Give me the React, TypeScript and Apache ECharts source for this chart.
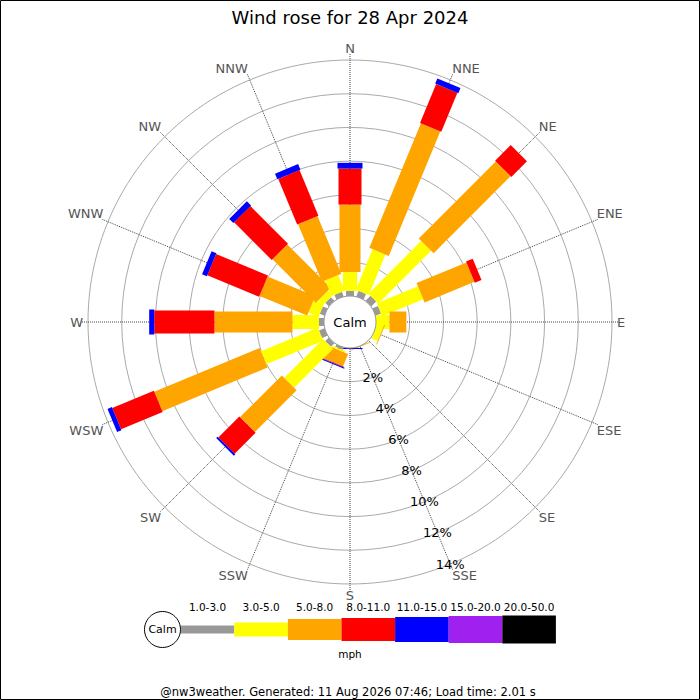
import React, { useEffect, useRef } from "react";
import * as echarts from "echarts";

// ---- data (percent of time, per direction and speed band) ----
const directions = ["N", "NNE", "NE", "ENE", "E", "ESE", "SE", "SSE", "S", "SSW", "SW", "WSW", "W", "WNW", "NW", "NNW"];
const bandLabels = ["1.0-3.0", "3.0-5.0", "5.0-8.0", "8.0-11.0", "11.0-15.0", "15.0-20.0", "20.0-50.0"];
const band1to3 = [0.3, 0.36, 0.42, 0.35, 0, 0, 0, 0, 0, 0.15, 0.3, 0.35, 0.3, 0.3, 0.3, 0.3];
const band3to5 = [1.13, 2.6, 4.43, 2.64, 0.8, 0.4, 0, 0, 0, 0.1, 3.26, 3.66, 1.57, 0.65, 0.4, 1.0];
const band5to8 = [3.99, 8.0, 6.46, 3.2, 1.0, 0.05, 0, 0.04, 0, 0.8, 3.5, 6.76, 4.63, 3.06, 3.64, 3.7];
const band8to11 = [2.14, 2.5, 1.31, 0.43, 0, 0, 0, 0, 0, 0.04, 1.76, 2.67, 3.57, 3.33, 3.16, 2.93];
const band11to15 = [0.34, 0.33, 0, 0, 0, 0, 0, 0, 0.06, 0.06, 0.12, 0.28, 0.3, 0.31, 0.35, 0.36];
const band15to20 = [0, 0, 0, 0, 0, 0, 0, 0, 0, 0, 0, 0, 0, 0, 0, 0];
const band20to50 = [0, 0, 0, 0, 0, 0, 0, 0, 0, 0, 0, 0, 0, 0, 0, 0];
const radiusMax = 14;
const radiusStep = 2;

// ---- styles ----
const bandColors = ["#999999", "#ffff00", "#ffa500", "#ff0000", "#0000ff", "#a020f0", "#000000"];
const bandWidths = [8, 14, 21, 23, 25, 27, 28];
const FONT = "DejaVu Sans";

export default function App() {
  const ref = useRef<HTMLDivElement>(null);

  useEffect(() => {
    if (!ref.current) return;
    const chart = echarts.init(ref.current, null, { renderer: "svg" });

    const bands = [band1to3, band3to5, band5to8, band8to11, band11to15, band15to20, band20to50];
    const step = 360 / directions.length;
    const segments: number[][] = [];
    directions.forEach((_, i) => {
      let cum = 0;
      bands.forEach((arr, b) => {
        const v = arr[i];
        if (v > 0) {
          segments.push([cum + v, i * step, cum, b]);
          cum += v;
        }
      });
    });

    const cx = 350;
    const cy = 322;
    const innerR = 26;
    const outerR = 262;

    const legendX0 = 180.7;
    const legendStep = 53.6;
    const legendY = 629.5;

    const legendGraphics: any[] = [];
    bandLabels.forEach((lab, b) => {
      const h = bandWidths[b];
      legendGraphics.push({
        type: "rect",
        shape: { x: legendX0 + b * legendStep, y: legendY - h / 2, width: legendStep, height: h },
        style: { fill: bandColors[b] },
      });
      legendGraphics.push({
        type: "text",
        x: legendX0 + b * legendStep + legendStep / 2,
        y: 607,
        style: { text: lab, fontSize: 10.5, fontFamily: FONT, fill: "#000", align: "center", verticalAlign: "middle" },
      });
    });

    chart.setOption({
      animation: false,
      textStyle: { fontFamily: FONT },
      polar: [
        { center: [cx, cy], radius: [innerR, outerR] },
        { center: [cx, cy], radius: [innerR, outerR] },
      ],
      angleAxis: [
        {
          polarIndex: 0,
          type: "value",
          min: 0,
          max: 360,
          interval: step,
          startAngle: 90,
          clockwise: true,
          axisLine: { show: false },
          axisTick: { show: true, length: 6, lineStyle: { color: "#444", type: "dotted", width: 1 } },
          splitLine: { show: true, lineStyle: { color: "#444", type: "dotted", width: 1 } },
          axisLabel: {
            margin: 5,
            color: "#555",
            fontSize: 13,
            fontFamily: FONT,
            formatter: (v: number) => directions[Math.round(v / step) % directions.length],
          },
        },
        {
          polarIndex: 1,
          type: "value",
          min: 0,
          max: 360,
          startAngle: 90 - 157.5,
          show: false,
        },
      ],
      radiusAxis: [
        {
          polarIndex: 0,
          type: "value",
          min: 0,
          max: radiusMax,
          interval: radiusStep,
          axisLine: { show: false },
          axisTick: { show: false },
          axisLabel: { show: false },
          splitLine: { show: true, lineStyle: { color: "#aaaaaa", width: 1 } },
        },
        {
          polarIndex: 1,
          type: "value",
          min: 0,
          max: radiusMax,
          interval: radiusStep,
          axisLine: { show: false },
          axisTick: { show: false },
          splitLine: { show: false },
          axisLabel: {
            show: true,
            margin: 0,
            color: "#000",
            fontSize: 13,
            fontFamily: FONT,
            align: "center",
            verticalAlign: "middle",
            formatter: (v: number) => (v === 0 ? "" : v + "%"),
          },
        },
      ],
      series: [
        {
          type: "custom",
          coordinateSystem: "polar",
          polarIndex: 0,
          data: segments,
          z: 3,
          renderItem: (params: any, api: any) => {
            const end = api.value(0);
            const ang = api.value(1);
            const start = api.value(2);
            const b = api.value(3);
            const pa = api.coord([start, ang]);
            const pb = api.coord([end, ang]);
            const c0 = api.coord([0, ang]);
            const c1 = api.coord([radiusMax, ang]);
            let dx = c1[0] - c0[0];
            let dy = c1[1] - c0[1];
            const len = Math.sqrt(dx * dx + dy * dy) || 1;
            dx /= len;
            dy /= len;
            const px = -dy * (bandWidths[b] / 2);
            const py = dx * (bandWidths[b] / 2);
            return {
              type: "polygon",
              shape: {
                points: [
                  [pa[0] + px, pa[1] + py],
                  [pb[0] + px, pb[1] + py],
                  [pb[0] - px, pb[1] - py],
                  [pa[0] - px, pa[1] - py],
                ],
              },
              style: { fill: bandColors[b] },
            };
          },
        },
      ],
      graphic: [
        {
          type: "rect",
          shape: { x: 0.5, y: 0.5, width: 699, height: 699 },
          style: { fill: "none", stroke: "#000", lineWidth: 1 },
        },
        {
          type: "text",
          x: 350,
          y: 17,
          style: { text: "Wind rose for 28 Apr 2024", fontSize: 18, fontFamily: FONT, fill: "#000", align: "center", verticalAlign: "middle" },
        },
        {
          type: "circle",
          z: 4,
          shape: { cx, cy, r: innerR },
          style: { fill: "#fff", stroke: "#999", lineWidth: 1 },
        },
        {
          type: "text",
          z: 5,
          x: cx,
          y: cy,
          style: { text: "Calm", fontSize: 13, fontFamily: FONT, fill: "#000", align: "center", verticalAlign: "middle" },
        },
        ...legendGraphics,
        {
          type: "circle",
          shape: { cx: 162.5, cy: legendY, r: 18 },
          style: { fill: "#fff", stroke: "#000", lineWidth: 1 },
        },
        {
          type: "text",
          x: 162.5,
          y: legendY,
          style: { text: "Calm", fontSize: 11, fontFamily: FONT, fill: "#000", align: "center", verticalAlign: "middle" },
        },
        {
          type: "text",
          x: 350,
          y: 654,
          style: { text: "mph", fontSize: 10.5, fontFamily: FONT, fill: "#000", align: "center", verticalAlign: "middle" },
        },
        {
          type: "text",
          x: 348,
          y: 692,
          style: {
            text: "@nw3weather. Generated: 11 Aug 2026 07:46; Load time: 2.01 s",
            fontSize: 11.5,
            fontFamily: FONT,
            fill: "#000",
            align: "center",
            verticalAlign: "middle",
          },
        },
      ],
    });

    return () => chart.dispose();
  }, []);

  return <div ref={ref} style={{ position: "absolute", left: 0, top: 0, width: 700, height: 700 }} />;
}
